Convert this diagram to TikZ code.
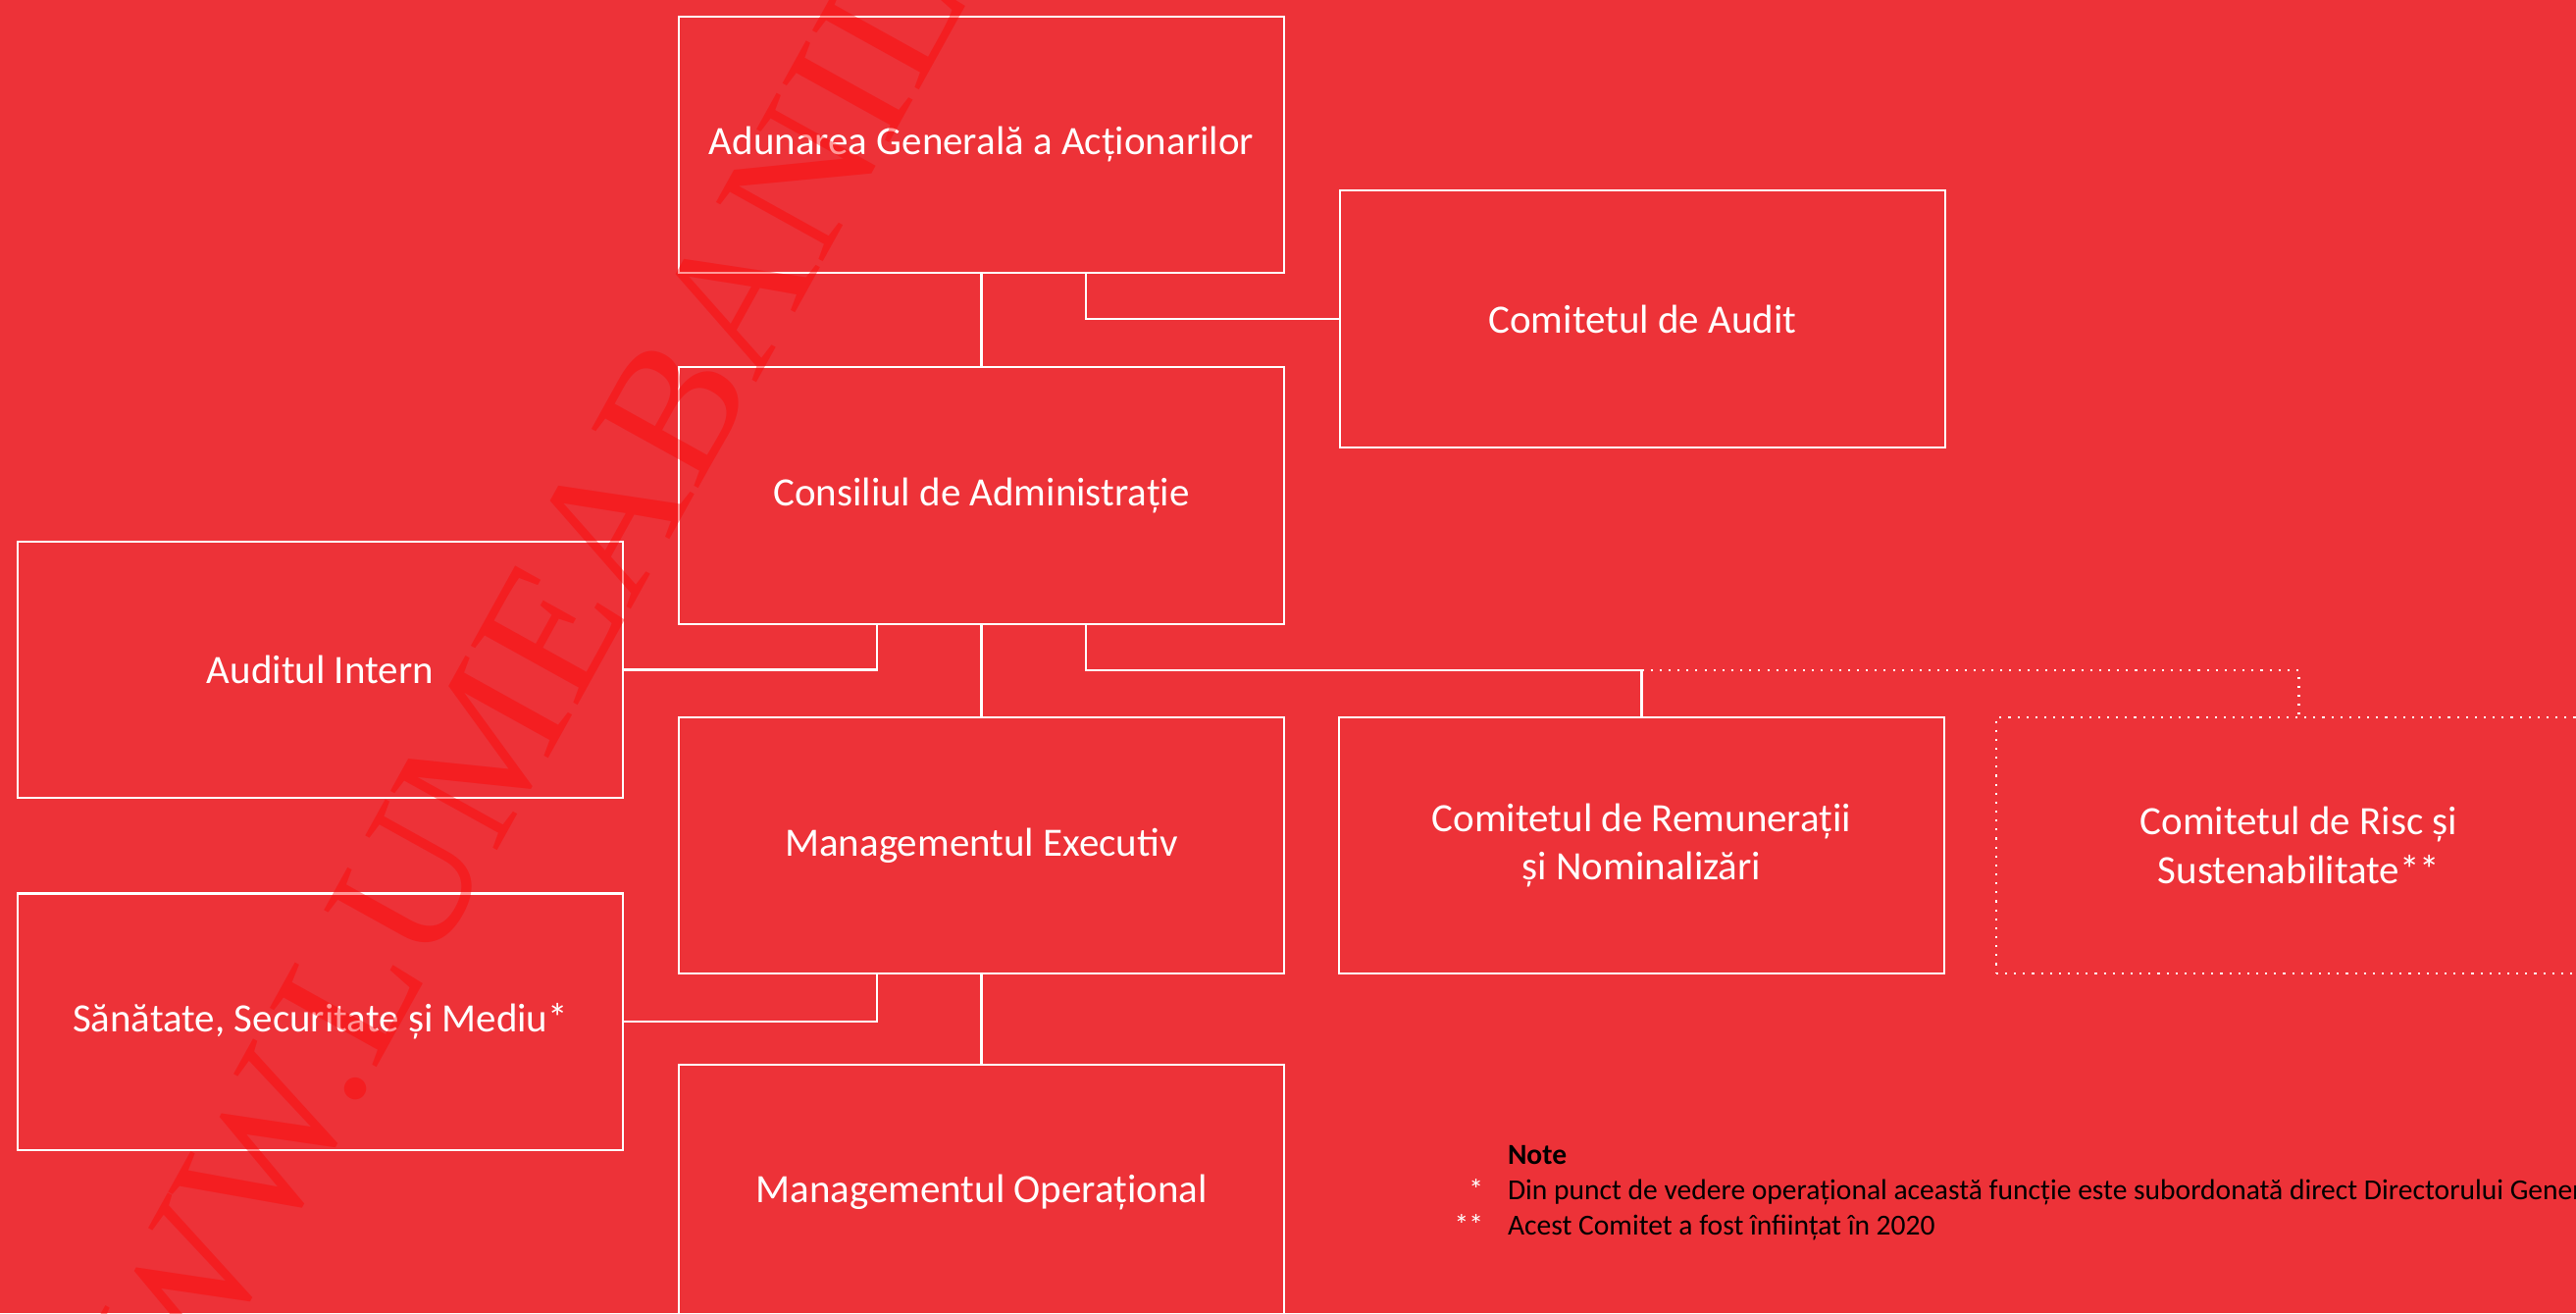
\documentclass[tikz,border=0pt]{standalone}
\usepackage{fontspec}
\setmainfont{Carlito}
\newfontfamily\wmfont{Liberation Serif}
\definecolor{bgred}{RGB}{237,50,56}
\definecolor{wmred}{RGB}{255,0,0}
\begin{document}
\begin{tikzpicture}[x=0.01cm,y=-0.01cm,
  orgbox/.style={draw=white,line width=0.6pt,minimum width=6.17cm,minimum height=2.61cm,
    outer sep=0pt,inner sep=2pt,text=white,align=center,
    font=\fontsize{11.65}{14.2}\selectfont},
  dotbox/.style={orgbox,dotted},
  conn/.style={draw=white,line width=0.6pt},
  dotconn/.style={conn,dotted},
  notefont/.style={font=\fontsize{8.4}{10}\selectfont,inner sep=0pt,outer sep=0pt}]
\useasboundingbox (0,0) rectangle (2626,1338);
\fill[bgred] (0,0) rectangle (2626,1338);

\node[orgbox] (aga)   at (1000.5,147.5) {Adunarea Generală a Acționarilor};
\node[orgbox] (audit) at (1674.5,325)   {Comitetul de Audit};
\node[orgbox] (cons)  at (1000.5,505)   {Consiliul de Administrație};
\node[orgbox] (ai)    at (326.5,682.5)  {Auditul Intern};
\node[orgbox] (exec)  at (1000.5,861.5) {Managementul Executiv};
\node[orgbox] (rem)   at (1673.5,861.5) {Comitetul de Remunerații\\și Nominalizări};
\node[dotbox] (risc)  at (2343.5,861.5) {Comitetul de Risc și\\Sustenabilitate**};
\node[orgbox] (ssm)   at (326.5,1041)   {Sănătate, Securitate și Mediu*};
\node[orgbox] (op)    at (1000.5,1215.5){Managementul Operațional};

\coordinate (aga-r)  at ([xshift=4.15cm]aga.south west);
\coordinate (cons-l) at ([xshift=2.02cm]cons.south west);
\coordinate (cons-r) at ([xshift=4.15cm]cons.south west);
\coordinate (exec-l) at ([xshift=2.02cm]exec.south west);
\coordinate (jrem)   at (1673.5,683);
\coordinate (jrisc)  at (2343.5,683);

\draw[conn] (aga.south) -- (cons.north);
\draw[conn] (aga-r) |- (audit.west);
\draw[conn] (cons-l) |- (ai.east);
\draw[conn] (cons.south) -- (exec.north);
\draw[conn] (cons-r) |- (jrem) -- (rem.north);
\draw[dotconn] (jrem) -- (jrisc) -- (risc.north);
\draw[conn] (exec-l) |- (ssm.east);
\draw[conn] (exec.south) -- (op.north);

\node[notefont,anchor=base west,font=\fontsize{8.4}{10}\bfseries] (notetitle) at (1537,1186) {Note};
\node[notefont,anchor=base west] (note1) at (1537,1222) {Din punct de vedere operațional această funcție este subordonată direct Directorului General};
\node[notefont,anchor=base west] (note2) at (1537,1258) {Acest Comitet a fost înființat în 2020};
\node[notefont,anchor=base east,text=white] (star1) at (1512,1222) {*};
\node[notefont,anchor=base east,text=white] (star2) at (1512,1258) {**};

\node[anchor=base west,rotate=61,inner sep=0pt,text=wmred,text opacity=0.4,
  font=\wmfont\fontsize{54}{56}\selectfont] (wm) at (106,1590) {WWW.LUMEABANILOR.RO};
\end{tikzpicture}
\end{document}
